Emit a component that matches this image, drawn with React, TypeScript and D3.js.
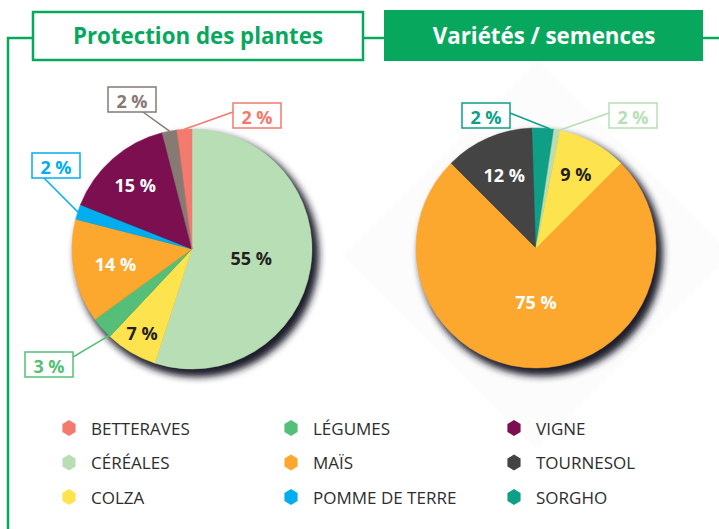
import React from "react";
import * as d3 from "d3";

// ---------- DATA ----------
const leftCategories = ["CÉRÉALES", "COLZA", "LÉGUMES", "MAÏS", "POMME DE TERRE", "VIGNE", "AUTRES", "BETTERAVES"];
const leftValues = [55, 7, 3, 14, 2, 15, 2, 2];
const leftLabels = ["55 %", "7 %", "3 %", "14 %", "2 %", "15 %", "2 %", "2 %"];

const rightCategories = ["MAÏS", "TOURNESOL", "SORGHO", "CÉRÉALES", "COLZA"];
const rightValues = [75, 12, 2.9, 0.8, 9.3];
const rightLabels = ["75 %", "12 %", "2 %", "2 %", "9 %"];

const legendColumns = [
  ["BETTERAVES", "CÉRÉALES", "COLZA"],
  ["LÉGUMES", "MAÏS", "POMME DE TERRE"],
  ["VIGNE", "TOURNESOL", "SORGHO"],
];

const titles = ["Protection des plantes", "Variétés / semences"];

// ---------- STYLE / LAYOUT ----------
const colors: Record<string, string> = {
  "BETTERAVES": "#f27a6f",
  "CÉRÉALES": "#b8deb5",
  "COLZA": "#fde44f",
  "LÉGUMES": "#55bf79",
  "MAÏS": "#fca82f",
  "POMME DE TERRE": "#00aeef",
  "VIGNE": "#7c0f4f",
  "TOURNESOL": "#444444",
  "SORGHO": "#0e9f86",
  "AUTRES": "#877a73",
};
const darkText: Record<string, boolean> = { "CÉRÉALES": true, "COLZA": true };
const GREEN = "#07a85d";
const R = 120;
const FONT = "'Open Sans', 'Noto Sans', sans-serif";

// inner label radius (null = outside label)
const leftInner: (number | null)[] = [60, 98, null, 78, null, 86, null, null];
const rightInner: (number | null)[] = [54, 80, null, null, 84];

// outside labels: anchor fraction within slice, box offset from pie center, line end offset
type Out = { frac: number; bx: number; by: number; ex: number; ey: number };
const leftOuter: Record<number, Out> = {
  2: { frac: 0.05, bx: -167, by: 103, ex: -119, ey: 108 },
  4: { frac: 0.5, bx: -160, by: -96, ex: -148, ey: -71 },
  6: { frac: 0.5, bx: -84, by: -162, ex: -49, ey: -137 },
  7: { frac: 0.5, bx: 41, by: -146, ex: 41, ey: -137 },
};
const rightOuter: Record<number, Out> = {
  2: { frac: 0.8, bx: -74, by: -145, ex: -26, ey: -135 },
  3: { frac: 0.9, bx: 73, by: -145, ex: 73, ey: -135 },
};

const BOX_W = 48;
const BOX_H = 25;

function Pie({ cx, cy, cats, vals, labels, inner, outer, start }: any) {
  const pie = d3
    .pie<number>()
    .sort(null)
    .value((d) => d)
    .startAngle(start)
    .endAngle(start + 2 * Math.PI);
  const arcs = pie(vals);
  const arc = d3.arc<d3.PieArcDatum<number>>().innerRadius(0).outerRadius(R);
  return (
    <g transform={`translate(${cx},${cy})`}>
      <circle cx={5} cy={6} r={R + 2} fill="#1e1e2a" filter="url(#shadow)" />
      {arcs.map((a, i) => (
        <path key={i} d={arc(a) || ""} fill={colors[cats[i]]} stroke={colors[cats[i]]} strokeWidth={0.5} />
      ))}
      {arcs.map((a, i) => {
        const r = inner[i];
        if (r == null) return null;
        const ang = (a.startAngle + a.endAngle) / 2;
        const x = r * Math.sin(ang);
        const y = -r * Math.cos(ang);
        return (
          <text
            key={"t" + i}
            x={x}
            y={y}
            textAnchor="middle"
            dominantBaseline="central"
            fontFamily={FONT}
            fontWeight={700}
            fontSize={18}
            fill={darkText[cats[i]] ? "#231f20" : "#ffffff"}
          >
            {labels[i]}
          </text>
        );
      })}
      {arcs.map((a, i) => {
        const o: Out | undefined = outer[i];
        if (!o) return null;
        const ang = a.startAngle + (a.endAngle - a.startAngle) * o.frac;
        const x0 = R * Math.sin(ang);
        const y0 = -R * Math.cos(ang);
        const col = colors[cats[i]];
        return (
          <g key={"o" + i}>
            <line x1={x0} y1={y0} x2={o.ex} y2={o.ey} stroke={col} strokeWidth={1.5} />
            <rect x={o.bx} y={o.by} width={BOX_W} height={BOX_H} fill="#fff" stroke={col} strokeWidth={1.5} />
            <text
              x={o.bx + BOX_W / 2}
              y={o.by + BOX_H / 2 + 1}
              textAnchor="middle"
              dominantBaseline="central"
              fontFamily={FONT}
              fontWeight={700}
              fontSize={18}
              fill={col}
            >
              {labels[i]}
            </text>
          </g>
        );
      })}
    </g>
  );
}

function hexPath(r: number) {
  const pts: [number, number][] = d3.range(6).map((k) => {
    const a = (Math.PI / 3) * k;
    return [r * Math.sin(a) * 0.95, -r * Math.cos(a)];
  });
  return d3.line()(pts.concat([pts[0]])) || "";
}

export default function App() {
  const colX = [69, 291, 514];
  const rowY = d3.scalePoint<number>().domain([0, 1, 2]).range([428, 497]);
  return (
    <svg width={719} height={529} style={{ position: "absolute", left: 0, top: 0, background: "#fff" }}>
      <defs>
        <filter id="shadow" x="-30%" y="-30%" width="160%" height="160%">
          <feGaussianBlur in="SourceGraphic" stdDeviation="3.5" />
        </filter>
      </defs>
      {/* faint diamond behind right pie */}
      <rect x={537 - 138} y={255 - 138} width={276} height={276} transform="rotate(45 537 255)" fill="#fcfcfd" />

      {/* frame lines */}
      <path d="M8,529 V38 H33" fill="none" stroke={GREEN} strokeWidth={2.5} />
      <line x1={363} y1={38} x2={384} y2={38} stroke={GREEN} strokeWidth={2.5} />
      <line x1={703} y1={38} x2={719} y2={38} stroke={GREEN} strokeWidth={2.5} />

      <rect x={33} y={12} width={330} height={48} fill="#fff" stroke={GREEN} strokeWidth={2.5} />
      <text x={198} y={44} textAnchor="middle" fontFamily={FONT} fontWeight={700} fontSize={22.3} fill={GREEN}>
        {titles[0]}
      </text>
      <rect x={384} y={10} width={319} height={51} fill={GREEN} />
      <text x={544} y={44} textAnchor="middle" fontFamily={FONT} fontWeight={700} fontSize={22.3} fill="#fff">
        {titles[1]}
      </text>

      <Pie cx={192} cy={249} cats={leftCategories} vals={leftValues} labels={leftLabels} inner={leftInner} outer={leftOuter} start={0} />
      <Pie cx={536} cy={248} cats={rightCategories} vals={rightValues} labels={rightLabels} inner={rightInner} outer={rightOuter} start={Math.PI / 4} />

      {legendColumns.map((col, ci) =>
        col.map((name, ri) => (
          <g key={name} transform={`translate(${colX[ci]},${rowY(ri)})`}>
            <path d={hexPath(8)} fill={colors[name]} />
            <text x={22} y={0} dominantBaseline="central" fontFamily={FONT} fontSize={17} fill="#2d2d2d">
              {name}
            </text>
          </g>
        ))
      )}
    </svg>
  );
}
